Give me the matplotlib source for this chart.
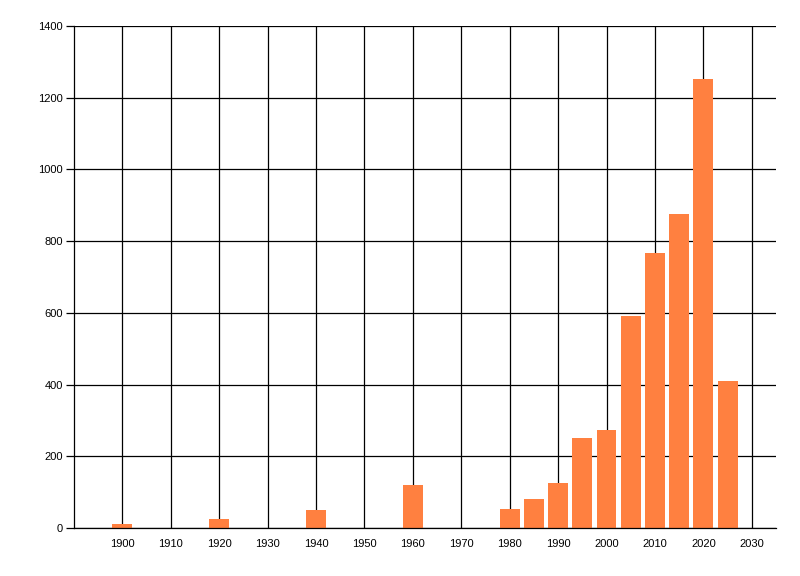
import numpy as np
import matplotlib.pyplot as plt

plt.rcParams['font.family'] = ['Liberation Sans', 'DejaVu Sans']

# bar positions (year) and heights
years = [1900, 1920, 1940, 1960, 1980, 1985, 1990, 1995, 2000, 2005, 2010, 2015, 2020, 2025]
counts = [11, 25, 50, 120, 53, 81, 125, 251, 273, 591, 767, 876, 1252, 410]

x_ticks = list(range(1900, 2031, 10))
y_ticks = list(range(0, 1401, 200))

fig = plt.figure(figsize=(8, 5.76), dpi=100)
ax = fig.add_axes([0.0925, 0.0833, 0.8775, 0.8715])

ax.bar(years, counts, width=4.1, color='#ff8040', zorder=3)

ax.set_xlim(1890, 2035)
ax.set_ylim(0, 1400)
ax.set_xticks(x_ticks)
ax.set_yticks(y_ticks)

ax.grid(True, color='black', linewidth=0.9, zorder=0)
ax.set_axisbelow(True)

for side in ['top', 'right']:
    ax.spines[side].set_visible(False)
for side in ['left', 'bottom']:
    ax.spines[side].set_linewidth(0.9)
    ax.spines[side].set_zorder(4)

ax.tick_params(axis='x', length=0, pad=8, labelsize=8)
ax.tick_params(axis='y', length=6, width=0.9, pad=2, labelsize=8)

fig.savefig('out.png', dpi=100)
